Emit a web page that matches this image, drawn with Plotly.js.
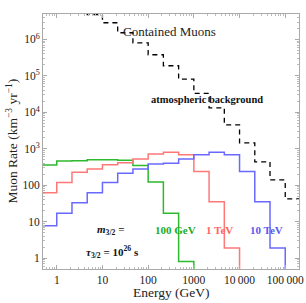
<!DOCTYPE html>
<html>
<head>
<meta charset="utf-8">
<script src="https://cdn.plot.ly/plotly-3.0.1.min.js"></script>
<style>html,body{margin:0;padding:0;background:#fff;}#chart{width:306px;height:303px;}</style>
</head>
<body>
<div id="chart"></div>
<script>
// Bin edges (GeV), log-spaced thirds of a decade
const binEdges = [0.464, 1, 2.154, 4.642, 10, 21.54, 46.42, 100, 215.4, 464.2, 1000, 2154, 4642, 10000, 21544, 46416, 100000, 200000];

// Muon rates per bin (km^-3 yr^-1)
const green100GeV = [360, 460, 470, 500, 500, 480, 345, 122, 17, 0.8];
const red1TeV = [62, 118, 225, 278, 365, 410, 526, 720, 805, 680, 236, 35, 1.9];
const blue10TeV = [7.7, 17, 33, 62, 118, 213, 276, 384, 400, 526, 680, 805, 680, 236, 35, 1.9];

// Atmospheric background, bins starting at 2.154 GeV
const atmStartIndex = 2;
const atmBackground = [1.2e7, 4.8e6, 2.88e6, 1.53e6, 8.1e5, 3.8e5, 1.9e5, 8.1e4, 3.3e4, 1.33e4, 4.5e3, 1.45e3, 435, 140, 42];

const zeroFloor = 1e-3;

const xTickVals = [1, 10, 100, 1000, 10000, 100000];
const xTickText = ['1', '10', '100', '1000', '10\u2009000', '100\u2009000'];
const yTickVals = [1, 10, 100, 1000, 1e4, 1e5, 1e6];
const yTickText = ['1', '10', '100', '10<sup>3</sup>', '10<sup>4</sup>', '10<sup>5</sup>', '10<sup>6</sup>'];

function stepTrace(vals, startIdx, color, dropToZero, dash) {
  const x = [], y = [];
  for (let i = 0; i < vals.length; i++) { x.push(binEdges[startIdx + i]); y.push(vals[i]); }
  x.push(binEdges[startIdx + vals.length]);
  y.push(dropToZero ? zeroFloor : vals[vals.length - 1]);
  return {x, y, type: 'scatter', mode: 'lines', line: {shape: 'hv', color, width: dash ? 1.3 : 1.5, dash: dash || 'solid'}, hoverinfo: 'skip', showlegend: false};
}

function minorTicks(lo, hi) {
  const out = [];
  for (let d = lo; d <= hi; d++) for (let k = 2; k <= 9; k++) out.push(k * Math.pow(10, d));
  return out;
}

const traces = [
  stepTrace(atmBackground, atmStartIndex, '#000', false, '5px,4px'),
  stepTrace(green100GeV, 0, 'rgb(45,185,45)', true),
  stepTrace(red1TeV, 0, 'rgb(255,120,120)', true),
  stepTrace(blue10TeV, 0, 'rgb(105,105,255)', true)
];

const serif = 'Liberation Serif, Times New Roman, serif';
const axisCommon = {
  type: 'log', showgrid: false, zeroline: false, showline: true, mirror: 'ticks',
  linecolor: '#aaa', linewidth: 1, ticks: 'inside', ticklen: 4, tickcolor: '#aaa', tickwidth: 1,
  tickfont: {family: serif, size: 11.5, color: '#222'}, tickmode: 'array'
};

const layout = {
  width: 306, height: 303,
  margin: {l: 43, r: 7, t: 14, b: 34},
  paper_bgcolor: '#fff', plot_bgcolor: '#fff',
  font: {family: serif, color: '#222'},
  xaxis: Object.assign({}, axisCommon, {
    range: [Math.log10(0.5), Math.log10(2e5)], tickvals: xTickVals, ticktext: xTickText,
    minor: {tickmode: 'array', tickvals: minorTicks(-1, 5), ticks: 'inside', ticklen: 2, tickcolor: '#bbb'}
  }),
  yaxis: Object.assign({}, axisCommon, {
    range: [Math.log10(0.5), Math.log10(5e6)], tickvals: yTickVals, ticktext: yTickText,
    minor: {tickmode: 'array', tickvals: minorTicks(-1, 6), ticks: 'inside', ticklen: 2, tickcolor: '#bbb'}
  }),
  annotations: [
    {xref: 'paper', yref: 'paper', x: 0.5, y: -0.094, text: 'Energy (GeV)', showarrow: false, xanchor: 'center', yanchor: 'middle', font: {family: serif, size: 13.5, color: '#222'}},
    {xref: 'paper', yref: 'paper', x: -0.121, y: 0.5, text: 'Muon Rate (km<sup>\u22123</sup> yr<sup>\u22121</sup>)', textangle: -90, showarrow: false, xanchor: 'center', yanchor: 'middle', font: {family: serif, size: 13.5, color: '#222'}},
    {xref: 'x', yref: 'y', x: 1.40, y: 6.21, text: 'Contained Muons', showarrow: false, xanchor: 'left', yanchor: 'middle', font: {family: serif, size: 13, color: '#222'}},
    {xref: 'x', yref: 'y', x: 3.296, y: 4.342, text: '<b>atmospheric background</b>', showarrow: false, xanchor: 'center', yanchor: 'middle', font: {family: serif, size: 10.5, color: '#111'}},
    {xref: 'x', yref: 'y', x: 1.172, y: 0.77, text: '<b><i>m</i><sub>3/2</sub> =</b>', showarrow: false, xanchor: 'center', yanchor: 'middle', font: {family: serif, size: 11, color: '#111'}},
    {xref: 'x', yref: 'y', x: 1.215, y: 0.166, text: '<b><i>\u03c4</i><sub>3/2</sub> = 10<sup>26</sup> s</b>', showarrow: false, xanchor: 'center', yanchor: 'middle', font: {family: serif, size: 11, color: '#111'}},
    {xref: 'x', yref: 'y', x: 2.606, y: 0.77, text: '<b>100 GeV</b>', showarrow: false, xanchor: 'center', yanchor: 'middle', font: {family: serif, size: 11, color: 'rgb(30,170,30)'}},
    {xref: 'x', yref: 'y', x: 3.57, y: 0.77, text: '<b>1 TeV</b>', showarrow: false, xanchor: 'center', yanchor: 'middle', font: {family: serif, size: 11, color: 'rgb(255,100,100)'}},
    {xref: 'x', yref: 'y', x: 4.598, y: 0.77, text: '<b>10 TeV</b>', showarrow: false, xanchor: 'center', yanchor: 'middle', font: {family: serif, size: 11, color: 'rgb(90,90,240)'}}
  ]
};

Plotly.newPlot('chart', traces, layout, {staticPlot: true, displayModeBar: false});
</script>
</body>
</html>
